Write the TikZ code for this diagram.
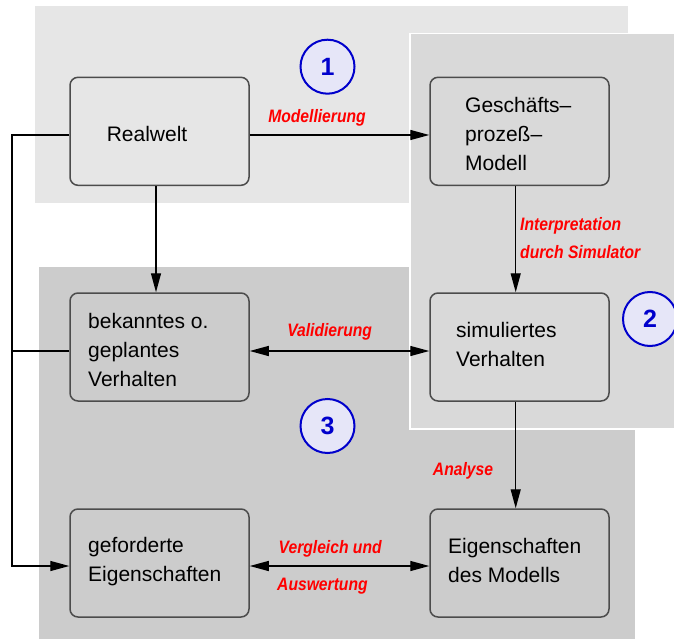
\documentclass[tikz,border=0pt]{standalone}
\usepackage{fontspec}
\setmainfont{Liberation Sans}
\newfontfamily\lblfont[FakeStretch=0.87]{Liberation Sans}
\usetikzlibrary{arrows.meta}

\definecolor{zoneA}{HTML}{E6E6E6}
\definecolor{zoneB}{HTML}{D9D9D9}
\definecolor{zoneC}{HTML}{CCCCCC}
\definecolor{numfill}{HTML}{E6E6F8}
\definecolor{numline}{HTML}{0000CC}

\tikzset{
  box/.style={draw=black!70, line width=1.5pt, rounded corners=8pt,
    minimum width=179pt, minimum height=108pt, inner sep=0pt},
  boxtext/.style={anchor=west, inner sep=0pt, align=left,
    font=\fontsize{21}{29}\selectfont},
  lbl/.style={inner sep=0pt, text=red,
    font=\lblfont\bfseries\itshape\fontsize{18}{28}\selectfont},
  conn/.style={draw=black, line width=1.3pt},
  tip/.style={-{Triangle[length=19pt,width=10pt]}},
  dtip/.style={{Triangle[length=19pt,width=10pt]}-{Triangle[length=19pt,width=10pt]}},
  num/.style={circle, draw=numline, fill=numfill, line width=2pt,
    minimum size=54pt, inner sep=0pt, text=numline,
    font=\bfseries\fontsize{25}{25}\selectfont},
}

\begin{document}
\begin{tikzpicture}[x=1pt,y=-1pt]
\useasboundingbox (0,0) rectangle (674,639);

% shaded zones
\fill[zoneA] (34.5,6.5) rectangle (627.5,203);
\fill[zoneC] (38.5,267) rectangle (635,639);
\filldraw[fill=zoneB, draw=white, line width=1.2pt] (410,33.3) rectangle (677,429);

% boxes
\node[box] (rw) at (159.5,131.3) {};
\node[box] (gm) at (519.5,131.3) {};
\node[box] (bk) at (159.5,347) {};
\node[box] (sv) at (519.5,347) {};
\node[box] (ge) at (159.5,563) {};
\node[box] (em) at (519.5,563) {};

% box texts
\node[boxtext] (rw-t) at (106.6,133.5) {Realwelt};
\node[boxtext] (gm-t) at (465,134) {Geschäfts–\\prozeß–\\Modell};
\node[boxtext] (bk-t) at (88,350) {bekanntes o.\\geplantes\\Verhalten};
\node[boxtext] (sv-t) at (456,344) {simuliertes\\Verhalten};
\node[boxtext] (ge-t) at (88,562) {geforderte\\Eigenschaften};
\node[boxtext] (em-t) at (448,560) {Eigenschaften\\des Modells};

% numbered markers
\node[num] (n1) at (327.5,66.7) {1};
\node[num] (n2) at (650,319) {2};
\node[num] (n3) at (327.5,426) {3};

% connector end points
\coordinate (loopx) at (12,0);
\coordinate (rw-l) at ([yshift=-3.7pt]rw.west);
\coordinate (bk-l) at ([yshift=-4pt]bk.west);
\coordinate (ge-l) at ([yshift=-3pt]ge.west);

% connectors
\draw[conn,tip] ([yshift=-3.7pt]rw.east) -- ([yshift=-3.7pt]gm.west);
\draw[conn,tip] ([xshift=-3.5pt]rw.south) -- ([xshift=-3.5pt]bk.north);
\draw[conn,tip] ([xshift=-3.8pt]gm.south) -- ([xshift=-3.8pt]sv.north);
\draw[conn,tip] ([xshift=-3.8pt]sv.south) -- ([xshift=-3.8pt]em.north);
\draw[conn,dtip] ([yshift=-4pt]bk.east) -- ([yshift=-4pt]sv.west);
\draw[conn,dtip] ([yshift=-3pt]ge.east) -- ([yshift=-3pt]em.west);
\draw[conn,tip] (rw-l) -- (rw-l -| loopx) -- (ge-l -| loopx) -- (ge-l);
\draw[conn] (bk-l) -- (bk-l -| loopx);

% connector labels
\node[lbl, anchor=base] (l-mod) at (317,122.5) {Modellierung};
\node[lbl, anchor=west, align=left] (l-int) at (520,238.5) {Interpretation\\durch Simulator};
\node[lbl, anchor=base] (l-val) at (329.6,336.5) {Validierung};
\node[lbl, anchor=base] (l-ana) at (463,475.7) {Analyse};
\node[lbl, anchor=base west] (l-ver) at (278.5,553) {Vergleich und};
\node[lbl, anchor=base west] (l-aus) at (277,590) {Auswertung};
\end{tikzpicture}
\end{document}
